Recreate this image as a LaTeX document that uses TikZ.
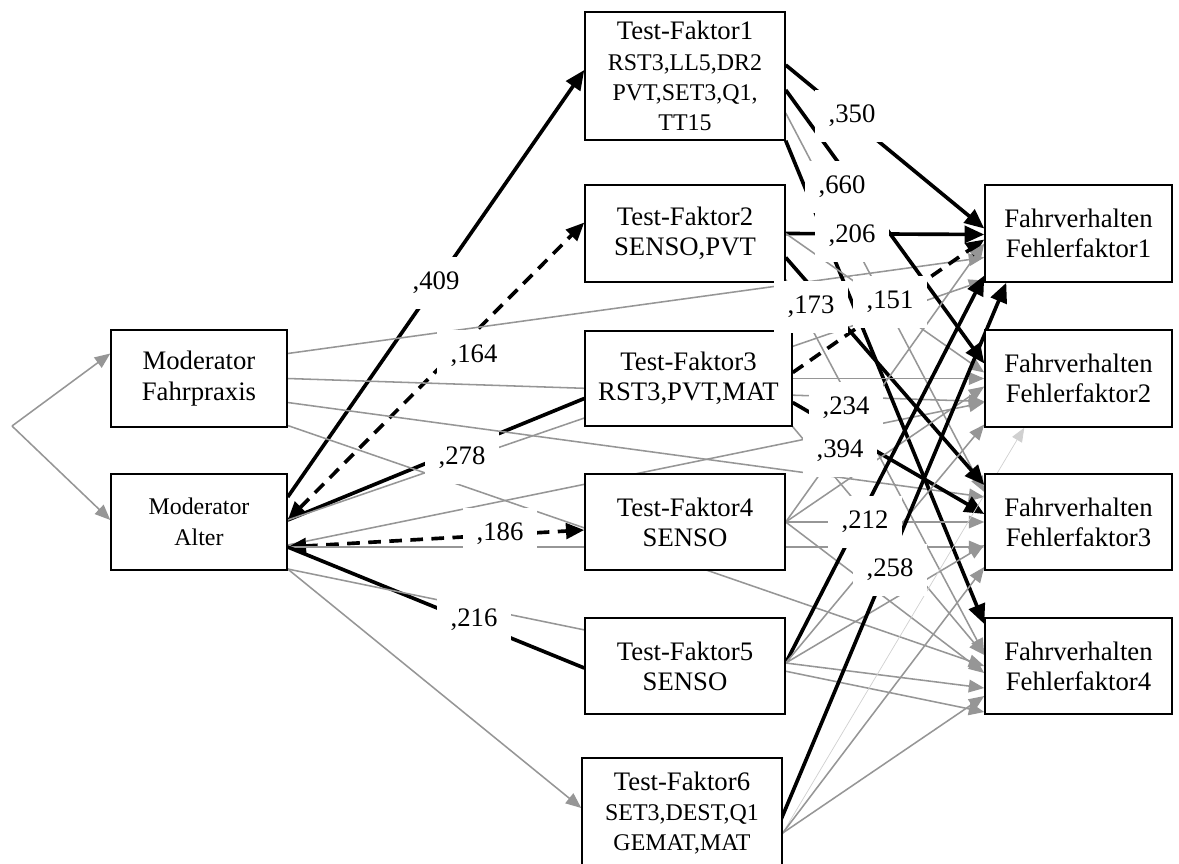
\documentclass[tikz,border=0pt]{standalone}
\usepackage{fontspec}
\setmainfont{Liberation Serif}
\usetikzlibrary{calc}
\usetikzlibrary{arrows.meta}
\usetikzlibrary{backgrounds}
\definecolor{pfadgrau}{RGB}{150,150,150}
\newcommand{\klein}{\fontsize{17}{20.5}\selectfont}

\begin{document}
\begin{tikzpicture}[x=0.025cm,y=-0.025cm,
  faktor/.style={draw,line width=1pt,fill=white,minimum width=5cm,minimum height=2.4cm,align=center,inner sep=2pt,font=\fontsize{19}{21.5}\selectfont},
  sigline/.style={line width=2.6pt},
  sig/.style={sigline,-{Triangle[length=14pt,width=12pt]}},
  sigdash/.style={sigline,dash pattern=on 9pt off 6pt,{Triangle[length=13pt,width=11pt]}-{Triangle[length=13pt,width=11pt]}},
  sigdashend/.style={sigline,dash pattern=on 9pt off 6pt,-{Triangle[length=13pt,width=11pt]}},
  ns/.style={pfadgrau,line width=1.1pt,-{Triangle[length=11pt,width=9pt]}},
  nslight/.style={pfadgrau!45,line width=0.5pt,-{Triangle[length=10pt,width=8pt]}},
  wert/.style={fill=white,inner xsep=10pt,inner ysep=11pt,font=\fontsize{19}{21}\selectfont}]
\useasboundingbox (0,0) rectangle (1179,863);

% Moderatoren
\node[faktor,minimum width=4.4cm,minimum height=2.425cm] (MF) at (199,378.5) {Moderator\\Fahrpraxis};
\node[faktor,minimum width=4.4cm,font=\fontsize{17}{22}\selectfont] (MA) at (199,522) {Moderator\\Alter};
\coordinate (gabel) at (12,426);

% Test-Faktoren
\node[faktor,minimum height=3.2cm] (TF1) at (685,76) {Test-Faktor1\\\klein RST3,LL5,DR2\\\klein PVT,SET3,Q1,\\\klein TT15};
\node[faktor,minimum height=2.425cm] (TF2) at (685,233.5) {Test-Faktor2\\SENSO,PVT};
\node[faktor,minimum width=5.175cm,minimum height=2.375cm] (TF3) at (688.5,378.5) {Test-Faktor3\\RST3,PVT,MAT};
\node[faktor] (TF4) at (685,522) {Test-Faktor4\\SENSO};
\node[faktor] (TF5) at (685,666) {Test-Faktor5\\SENSO};
\node[faktor,minimum height=2.75cm] (TF6) at (682,813) {Test-Faktor6\\\klein SET3,DEST,Q1\\\klein GEMAT,MAT};

% Fahrverhalten
\node[faktor,minimum width=4.675cm,minimum height=2.425cm] (FF1) at (1078.5,233.5) {Fahrverhalten\\Fehlerfaktor1};
\node[faktor,minimum width=4.675cm,minimum height=2.425cm] (FF2) at (1078.5,378.5) {Fahrverhalten\\Fehlerfaktor2};
\node[faktor,minimum width=4.675cm] (FF3) at (1078.5,522) {Fahrverhalten\\Fehlerfaktor3};
\node[faktor,minimum width=4.675cm] (FF4) at (1078.5,666) {Fahrverhalten\\Fehlerfaktor4};

\begin{scope}[on background layer]
\draw[ns] (gabel) -- ($(MF.west)+(0,-25)$);
\draw[ns] (gabel) -- ($(MA.west)+(0,-2)$);

% Pfade Alter
\draw[sig] ($(MA.east)+(0,-25)$) -- ($(TF1.west)+(0,-6)$);
\draw[sigdash] ($(MA.east)+(0,-2)$) -- ($(TF2.west)+(0,-11)$);
\draw[sigline] ($(MA.east)+(0,-2)$) -- ($(TF3.west)+(0,20)$);
\draw[ns] ($(MA.east)+(0,-2)$) -- ($(FF1.west)+(0,47)$);
\draw[ns] ($(MA.east)+(0,23)$) -- ($(FF2.west)+(0,24)$);
\draw[sigdash] ($(MA.east)+(0,25)$) -- ($(TF4.west)+(0,8)$);
\draw[ns] ($(MA.east)+(0,25)$) -- ($(FF3.west)+(0,25)$);
\draw[sigline] ($(MA.east)+(0,25)$) -- ($(TF5.west)+(0,2)$);
\draw[ns] ($(MA.east)+(0,47)$) -- ($(FF4.west)+(0,46)$);
\draw[ns] ($(MA.east)+(0,47)$) -- ($(TF6.west)+(0,-5)$);

% Pfade Fahrpraxis
\draw[ns] ($(MF.east)+(0,-25)$) -- ($(FF1.west)+(0,24)$);
\draw[ns] (MF.east) -- ($(FF2.west)+(0,23)$);
\draw[ns] ($(MF.east)+(0,24)$) -- ($(FF3.west)+(0,-25)$);
\draw[ns] ($(MF.east)+(0,47)$) -- (FF4.west);

% Test-Faktoren -> Fehlerfaktoren
\draw[sig] ($(TF1.east)+(0,-11)$) -- ($(FF1.west)+(0,-5)$);
\draw[sig] ($(TF1.east)+(0,14)$) -- ($(FF2.west)+(0,-15)$);
\draw[ns] ($(TF1.east)+(0,37)$) -- ($(FF3.west)+(0,-30)$);
\draw[sig] (TF1.south east) -- ($(FF4.west)+(0,-42)$);
\draw[sig] (TF2.east) -- ($(FF1.west)+(0,1)$);
\draw[ns] (TF2.east) -- ($(FF2.west)+(0,-6)$);
\draw[sig] ($(TF2.east)+(0,24)$) -- ($(FF3.west)+(0,-37)$);
\draw[ns] ($(TF2.east)+(0,46)$) -- ($(FF4.west)+(0,-12)$);
\draw[sigdashend] ($(TF3.east)+(0,-6)$) -- ($(FF1.west)+(0,6)$);
\draw[ns] (TF3.east) -- (FF2.west);
\draw[sig] ($(TF3.east)+(0,24)$) -- ($(FF3.west)+(0,-8)$);
\draw[ns] (TF3.south east) -- ($(FF4.west)+(0,-11)$);
\draw[ns] (TF4.east) -- ($(FF1.west)+(0,10)$);
\draw[ns] (TF4.east) -- ($(FF2.west)+(0,8)$);
\draw[ns] (TF4.east) -- (FF3.west);
\draw[ns] (TF4.east) -- ($(FF4.west)+(0,7)$);
\draw[sig] ($(TF5.east)+(0,-3)$) -- ($(FF1.west)+(0,42)$);
\draw[ns] ($(TF5.east)+(0,-3)$) -- ($(FF2.west)+(0,46)$);
\draw[ns] ($(TF5.east)+(0,-3)$) -- ($(FF3.west)+(0,23)$);
\draw[ns] ($(TF5.east)+(0,-3)$) -- ($(FF4.west)+(0,22)$);
\draw[sig] ($(TF6.east)+(-4,12)$) -- ($(FF1.south west)+(22,0)$);
\draw[nslight] ($(TF6.east)+(0,20)$) -- ($(FF2.south west)+(40,0)$);
\draw[ns] ($(TF6.east)+(0,20)$) -- ($(FF3.west)+(0,45)$);
\draw[ns] ($(TF6.east)+(0,20)$) -- ($(FF4.west)+(0,30)$);
\end{scope}

% Koeffizienten
\node[wert] (w409) at (436,283) {,409};
\node[wert] (w164) at (474,356) {,164};
\node[wert] (w278) at (462,458) {,278};
\node[wert] (w186) at (500,534) {,186};
\node[wert] (w216) at (474,620) {,216};
\node[wert] (w350) at (852,116) {,350};
\node[wert] (w660) at (842,187) {,660};
\node[wert] (w206) at (852,236) {,206};
\node[wert] (w173) at (811,307) {,173};
\node[wert] (w151) at (890,302) {,151};
\node[wert] (w234) at (846,408) {,234};
\node[wert] (w394) at (840,451) {,394};
\node[wert] (w212) at (865,522) {,212};
\node[wert] (w258) at (890,570) {,258};

\end{tikzpicture}
\end{document}
